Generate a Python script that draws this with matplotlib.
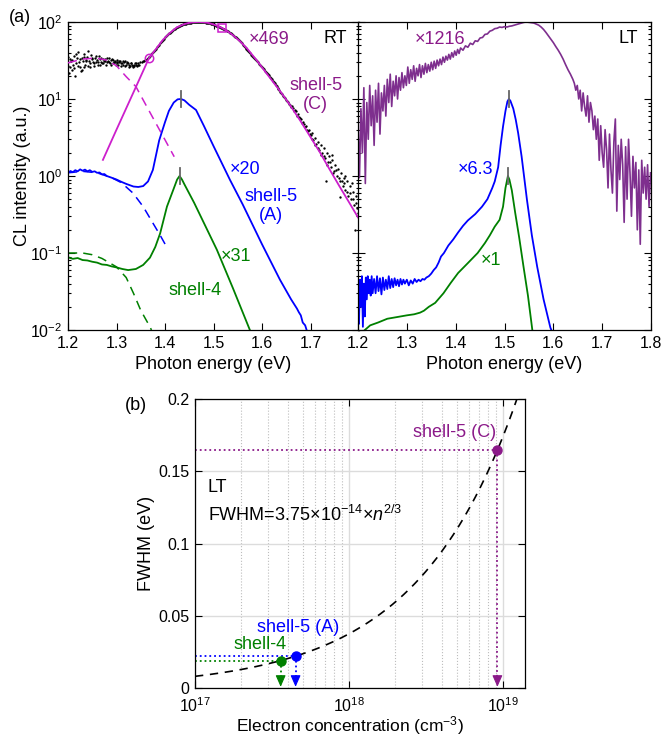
import numpy as np
import matplotlib
matplotlib.use("Agg")
import matplotlib.pyplot as plt
from matplotlib.ticker import FixedLocator, NullLocator, LogLocator

plt.rcParams['font.family'] = ['Liberation Sans', 'DejaVu Sans']
plt.rcParams['mathtext.fontset'] = 'custom'
plt.rcParams['mathtext.rm'] = 'Liberation Sans'
plt.rcParams['mathtext.it'] = 'Liberation Sans:italic'
plt.rcParams['mathtext.bf'] = 'Liberation Sans:bold'

# ---------------- colours ----------------
BLUE = (0, 0, 1)
GREEN = (0, 0.5, 0)
MAGENTA = '#CC1FCC'
PURPLE = '#8B1A89'
LT_PURPLE = '#7E2F8E'

# ---------------- (a) RT spectra ----------------
# shell-5 (C) measured points (photon energy eV, CL intensity a.u.)
rt_c_dots = [
    (1.200, 27), (1.204, 33), (1.208, 24), (1.212, 36), (1.216, 29), (1.220, 41), (1.224, 26),
    (1.228, 34), (1.232, 38), (1.236, 28), (1.240, 35), (1.244, 31), (1.248, 37), (1.252, 30),
    (1.256, 34), (1.260, 32), (1.264, 36), (1.268, 30), (1.272, 33), (1.276, 31), (1.280, 34),
    (1.284, 30), (1.288, 32), (1.292, 29), (1.296, 31), (1.300, 30), (1.304, 28), (1.308, 31),
    (1.312, 29), (1.316, 30), (1.320, 28), (1.324, 29), (1.328, 27), (1.332, 28), (1.336, 27),
    (1.340, 28), (1.344, 29), (1.348, 30),
    (1.202, 22), (1.206, 31), (1.210, 28), (1.214, 20), (1.218, 34), (1.222, 30), (1.226, 23),
    (1.230, 31), (1.234, 26), (1.238, 32), (1.242, 27), (1.246, 29), (1.250, 33), (1.254, 27),
    (1.258, 30), (1.262, 28), (1.266, 33), (1.270, 29), (1.274, 31), (1.278, 28), (1.282, 31),
    (1.286, 29), (1.290, 33), (1.294, 30), (1.298, 28), (1.302, 32), (1.306, 30), (1.310, 27),
    (1.314, 31), (1.318, 27), (1.322, 30), (1.326, 26), (1.330, 29), (1.334, 26), (1.338, 29),
    (1.342, 27), (1.346, 28),
    (1.201, 35), (1.205, 26), (1.209, 32), (1.213, 25), (1.217, 38), (1.221, 27), (1.225, 33),
    (1.229, 24), (1.233, 35), (1.237, 31), (1.241, 42), (1.245, 26), (1.249, 34), (1.253, 29),
    (1.257, 36), (1.261, 30), (1.265, 28), (1.269, 34), (1.273, 29), (1.277, 33), (1.281, 30),
    (1.285, 34), (1.289, 28), (1.293, 32), (1.297, 30), (1.301, 29), (1.305, 31), (1.309, 29),
    (1.313, 28), (1.317, 31), (1.321, 29), (1.325, 28), (1.329, 29), (1.333, 27), (1.337, 28),
    (1.341, 29), (1.345, 28),
    (1.352, 30.5), (1.356, 31.5), (1.360, 32.5), (1.364, 34), (1.368, 35.5), (1.372, 38),
    (1.376, 40.5), (1.380, 43.5), (1.384, 47), (1.388, 51), (1.392, 55), (1.396, 59),
    (1.400, 63), (1.404, 67), (1.408, 71), (1.412, 75), (1.416, 78.5), (1.420, 82),
    (1.424, 85), (1.428, 88), (1.432, 90.5), (1.436, 92.5), (1.440, 94), (1.444, 95.5),
    (1.448, 97), (1.452, 98), (1.456, 99), (1.460, 99.5), (1.464, 100), (1.468, 100),
    (1.472, 100), (1.476, 99.7), (1.480, 99.2), (1.484, 98.5), (1.488, 97.5), (1.492, 96.3),
    (1.496, 94.8), (1.500, 93), (1.504, 91), (1.508, 89), (1.512, 87), (1.516, 84.5),
    (1.520, 82), (1.524, 79.5), (1.528, 77), (1.532, 74), (1.536, 71), (1.540, 67.5),
    (1.544, 64.5), (1.548, 61.5), (1.552, 58.5), (1.556, 55.5), (1.560, 51), (1.564, 48),
    (1.568, 45), (1.572, 42), (1.576, 39), (1.580, 36.7), (1.584, 34.3), (1.588, 32),
    (1.592, 29.9), (1.596, 27.9), (1.600, 26), (1.604, 24.3), (1.608, 22.4), (1.612, 20.9),
    (1.616, 19.5), (1.620, 18), (1.624, 16.6), (1.628, 15.3), (1.632, 14.1), (1.636, 13),
    (1.640, 12), (1.644, 11.1), (1.648, 10.2), (1.652, 9.4), (1.656, 8.7), (1.660, 7.9),
    (1.354, 31), (1.358, 32), (1.362, 33.2), (1.366, 34.8), (1.370, 36.7), (1.374, 39.2),
    (1.378, 42), (1.382, 45.2), (1.386, 49), (1.390, 53), (1.394, 57), (1.398, 61),
    (1.402, 65), (1.406, 69), (1.410, 73), (1.414, 76.7), (1.418, 80.2), (1.422, 83.5),
    (1.426, 86.5), (1.430, 89.3), (1.434, 91.5), (1.438, 93.3), (1.442, 94.8), (1.446, 96.3),
    (1.450, 97.5), (1.454, 98.5), (1.458, 99.2), (1.462, 99.8), (1.466, 100), (1.470, 100),
    (1.474, 99.9), (1.478, 99.5), (1.482, 98.9), (1.486, 98), (1.490, 96.9), (1.494, 95.6),
    (1.498, 93.9), (1.502, 92), (1.506, 90), (1.510, 88), (1.514, 85.8), (1.518, 83.3),
    (1.522, 80.8), (1.526, 78.3), (1.530, 75.5), (1.534, 72.5), (1.538, 69.3), (1.542, 66),
    (1.546, 63), (1.550, 60), (1.554, 57), (1.558, 53.3), (1.562, 49.5), (1.566, 46.5),
    (1.570, 43.5), (1.574, 40.5), (1.578, 37.8), (1.582, 35.5), (1.586, 33.1), (1.590, 31),
    (1.594, 28.9), (1.598, 27), (1.602, 25.1), (1.606, 23.3), (1.610, 21.6), (1.614, 20.2),
    (1.618, 18.7), (1.622, 17.3), (1.626, 16), (1.630, 14.7), (1.634, 13.6), (1.638, 12.5),
    (1.642, 11.6), (1.646, 10.7), (1.650, 9.8), (1.654, 9.1), (1.658, 8.3),
    (1.664, 7.6), (1.667, 7.0), (1.670, 6.9), (1.673, 6.1), (1.676, 5.9), (1.679, 5.6),
    (1.682, 4.9), (1.685, 5.0), (1.688, 4.3), (1.691, 4.4), (1.694, 3.8), (1.697, 3.9),
    (1.700, 3.4), (1.703, 3.6), (1.706, 2.9), (1.709, 3.1), (1.712, 2.6), (1.715, 2.8),
    (1.718, 2.2), (1.721, 2.5), (1.724, 2.0), (1.727, 2.3), (1.730, 1.7), (1.733, 2.0),
    (1.736, 1.5), (1.739, 1.8), (1.742, 1.3), (1.745, 1.6), (1.748, 1.15), (1.751, 1.4),
    (1.754, 1.0), (1.757, 1.25), (1.760, 0.85), (1.763, 1.1), (1.766, 0.75), (1.769, 0.95),
    (1.772, 0.65), (1.775, 0.85), (1.778, 0.55), (1.781, 0.75), (1.784, 0.5), (1.787, 0.62),
    (1.790, 0.42), (1.793, 0.55), (1.796, 0.38), (1.799, 0.48),
    (1.662, 8.2), (1.668, 7.3), (1.674, 6.4), (1.680, 5.5), (1.686, 4.7), (1.692, 4.0),
    (1.698, 3.5), (1.704, 3.0), (1.710, 2.5), (1.716, 2.3), (1.722, 1.9), (1.728, 1.8),
    (1.734, 1.4), (1.740, 1.5), (1.746, 1.1), (1.752, 1.2), (1.758, 0.95), (1.764, 0.85),
    (1.770, 0.8), (1.776, 0.62), (1.782, 0.6), (1.788, 0.5), (1.794, 0.45), (1.797, 0.33),
    (1.732, 0.86), (1.761, 0.54), (1.792, 0.2), (1.772, 1.0), (1.785, 0.8), (1.744, 1.9),
]
rt_c_dot_E = [p[0] for p in rt_c_dots]
rt_c_dot_I = [p[1] for p in rt_c_dots]

# shell-5 (C) fitted band-to-band component
rt_c_fit_E = [1.272, 1.300, 1.336, 1.367, 1.380, 1.396, 1.410, 1.424, 1.440, 1.450, 1.460,
              1.470, 1.480, 1.490, 1.500, 1.510, 1.517, 1.530, 1.540, 1.555, 1.570, 1.590,
              1.607, 1.623, 1.640, 1.658, 1.680, 1.700, 1.720, 1.740, 1.760, 1.780, 1.798]
rt_c_fit_I = [1.62, 4.0, 12.6, 34, 43.5, 59, 72, 85, 94, 97.5, 99.5,
              100, 99.2, 97, 93, 88, 84, 75, 67.5, 56, 44.7, 31.3,
              22.5, 16.6, 12, 8.3, 5.1, 3.2, 2.0, 1.2, 0.73, 0.45, 0.29]
# shell-5 (C) low-energy component
rt_c_bg_E = [1.200, 1.230, 1.258, 1.280, 1.300, 1.320, 1.340, 1.360, 1.380, 1.400, 1.419]
rt_c_bg_I = [29.5, 33, 34, 32, 27, 19.5, 14.5, 8.5, 5.0, 2.95, 1.78]
# circle / square markers on the fit
rt_c_marks_E = [1.367, 1.517]
rt_c_marks_I = [34, 84]

# shell-5 (A), x20
rt_a_E = [1.200, 1.205, 1.210, 1.215, 1.220, 1.225, 1.230, 1.235, 1.240, 1.245, 1.250,
          1.255, 1.260, 1.265, 1.270, 1.275, 1.280, 1.290, 1.300, 1.310, 1.320, 1.335,
          1.345, 1.355, 1.365, 1.375, 1.388, 1.400, 1.408, 1.418, 1.426, 1.433, 1.440,
          1.450, 1.464, 1.480, 1.500, 1.534, 1.560, 1.600, 1.637, 1.660, 1.672, 1.676,
          1.680, 1.684, 1.689, 1.692]
rt_a_I = [1.10, 1.16, 1.12, 1.19, 1.15, 1.22, 1.17, 1.21, 1.15, 1.19, 1.13,
          1.15, 1.10, 1.11, 1.05, 1.06, 1.00, 0.95, 0.90, 0.84, 0.79, 0.73,
          0.72, 0.74, 0.85, 1.2, 2.9, 5.0, 7.0, 9.0, 9.9, 10, 9.6,
          8.4, 7.2, 4.5, 2.45, 0.89, 0.43, 0.13, 0.045, 0.025, 0.019, 0.017,
          0.0155, 0.0125, 0.0115, 0.01]
rt_a_bg_E = [1.200, 1.230, 1.260, 1.290, 1.310, 1.334, 1.355, 1.375, 1.390, 1.406]
rt_a_bg_I = [1.10, 1.15, 1.10, 0.95, 0.82, 0.60, 0.40, 0.245, 0.17, 0.112]

# shell-4, x31
rt_4_E = [1.200, 1.210, 1.220, 1.230, 1.240, 1.250, 1.260, 1.270, 1.280, 1.290, 1.300,
          1.312, 1.324, 1.340, 1.355, 1.369, 1.380, 1.390, 1.404, 1.417, 1.425, 1.430,
          1.435, 1.440, 1.460, 1.507, 1.540, 1.575]
rt_4_I = [0.088, 0.084, 0.086, 0.081, 0.080, 0.077, 0.075, 0.071, 0.070, 0.067, 0.065,
          0.062, 0.060, 0.062, 0.070, 0.087, 0.12, 0.18, 0.40, 0.66, 0.90, 1.0,
          0.90, 0.78, 0.45, 0.11, 0.035, 0.01]
rt_4_bg_E = [1.200, 1.230, 1.250, 1.270, 1.300, 1.320, 1.335, 1.350, 1.369, 1.372]
rt_4_bg_I = [0.100, 0.100, 0.095, 0.085, 0.066, 0.048, 0.030, 0.018, 0.011, 0.010]

rt_peaks_E = [1.433, 1.430]
rt_peaks_I = [10, 1.0]

# ---------------- (a) LT spectra ----------------
lt_c = [
    (1.200, 5.0), (1.203, 0.95), (1.206, 7.5), (1.209, 2.0), (1.212, 14), (1.215, 0.8),
    (1.218, 9), (1.221, 3.0), (1.224, 15), (1.227, 4.5), (1.230, 11), (1.233, 2.5),
    (1.236, 13), (1.239, 5), (1.242, 16), (1.245, 3.5), (1.248, 12), (1.251, 7),
    (1.254, 15), (1.257, 6), (1.260, 18), (1.263, 9), (1.266, 21), (1.269, 8),
    (1.272, 17), (1.275, 11), (1.278, 20), (1.281, 10), (1.284, 19), (1.287, 13),
    (1.290, 22), (1.293, 14), (1.296, 20), (1.299, 15), (1.302, 26), (1.305, 16),
    (1.308, 24), (1.311, 18), (1.314, 27), (1.317, 17), (1.320, 25), (1.323, 20),
    (1.326, 28), (1.329, 19), (1.332, 27), (1.335, 21), (1.338, 29), (1.341, 22),
    (1.344, 28), (1.347, 23), (1.350, 30), (1.353, 24), (1.356, 31), (1.359, 25),
    (1.362, 32), (1.365, 27), (1.368, 33), (1.371, 28), (1.374, 35), (1.377, 30),
    (1.380, 36), (1.383, 32), (1.386, 38), (1.389, 33), (1.392, 40), (1.395, 35),
    (1.398, 42), (1.401, 37), (1.404, 44), (1.407, 39), (1.410, 46), (1.415, 43),
    (1.420, 49), (1.425, 47), (1.430, 53), (1.435, 51), (1.440, 57), (1.445, 56),
    (1.450, 62), (1.455, 63), (1.460, 69), (1.465, 70), (1.470, 76), (1.475, 78),
    (1.480, 82), (1.485, 83), (1.490, 86), (1.495, 85), (1.500, 87), (1.505, 86),
    (1.510, 88), (1.515, 89), (1.520, 91), (1.525, 93), (1.530, 95), (1.535, 97),
    (1.540, 99), (1.545, 100), (1.550, 99), (1.555, 98), (1.560, 97), (1.565, 94),
    (1.570, 91), (1.575, 86), (1.580, 80), (1.585, 73), (1.590, 66), (1.595, 60),
    (1.600, 54), (1.605, 48), (1.610, 43), (1.615, 38), (1.620, 33), (1.625, 28),
    (1.630, 24), (1.635, 21), (1.640, 18), (1.643, 16), (1.646, 13), (1.649, 15),
    (1.652, 10), (1.655, 13), (1.658, 7), (1.661, 12), (1.664, 8), (1.667, 6),
    (1.670, 11), (1.673, 5), (1.676, 9), (1.679, 7), (1.682, 4), (1.685, 6),
    (1.688, 3.0), (1.691, 5.5), (1.694, 1.6), (1.697, 4.5), (1.700, 2.0), (1.703, 1.3),
    (1.706, 4.0), (1.709, 2.2), (1.712, 0.7), (1.715, 3.5), (1.718, 1.2), (1.721, 0.6),
    (1.724, 2.8), (1.727, 5.5), (1.730, 0.35), (1.733, 2.5), (1.736, 0.9), (1.739, 3.0),
    (1.742, 1.4), (1.745, 0.25), (1.748, 2.4), (1.751, 0.5), (1.754, 3.0), (1.757, 1.1),
    (1.760, 0.3), (1.763, 1.8), (1.766, 0.7), (1.769, 1.5), (1.772, 0.2), (1.775, 1.2),
    (1.778, 0.13), (1.781, 1.6), (1.784, 0.6), (1.787, 1.3), (1.790, 0.5), (1.793, 1.4),
    (1.796, 0.4), (1.799, 1.1),
]
lt_c_E = [p[0] for p in lt_c]
lt_c_I = [p[1] for p in lt_c]

lt_a = [
    (1.200, 0.030), (1.202, 0.012), (1.204, 0.045), (1.206, 0.020), (1.208, 0.050),
    (1.210, 0.011), (1.212, 0.040), (1.214, 0.015), (1.216, 0.048), (1.218, 0.025),
    (1.220, 0.050), (1.222, 0.030), (1.224, 0.045), (1.226, 0.028), (1.228, 0.050),
    (1.230, 0.030), (1.233, 0.046), (1.236, 0.030), (1.239, 0.050), (1.242, 0.032),
    (1.245, 0.047), (1.248, 0.029), (1.251, 0.048), (1.254, 0.033), (1.257, 0.045),
    (1.260, 0.034), (1.263, 0.050), (1.266, 0.035), (1.269, 0.046), (1.272, 0.036),
    (1.275, 0.047), (1.278, 0.038), (1.281, 0.045), (1.284, 0.037), (1.287, 0.046),
    (1.290, 0.039), (1.293, 0.045), (1.296, 0.040), (1.300, 0.045), (1.304, 0.038),
    (1.308, 0.044), (1.312, 0.040), (1.316, 0.046), (1.320, 0.042), (1.324, 0.045),
    (1.328, 0.043), (1.332, 0.046), (1.336, 0.045), (1.340, 0.048), (1.345, 0.050),
    (1.350, 0.054), (1.355, 0.060), (1.360, 0.065), (1.365, 0.075), (1.370, 0.090),
    (1.376, 0.100), (1.385, 0.125), (1.395, 0.150), (1.405, 0.185), (1.415, 0.225),
    (1.425, 0.265), (1.440, 0.320), (1.454, 0.400), (1.465, 0.50), (1.475, 0.70),
    (1.480, 0.85), (1.487, 1.3), (1.492, 2.5), (1.497, 4.4), (1.502, 7.0), (1.506, 9.3),
    (1.509, 10), (1.512, 9.5), (1.518, 7.5), (1.523, 5.4), (1.528, 3.6), (1.535, 1.8),
    (1.546, 0.49), (1.556, 0.17), (1.567, 0.066), (1.580, 0.025), (1.594, 0.0107),
    (1.596, 0.010),
]
lt_a_E = [p[0] for p in lt_a]
lt_a_I = [p[1] for p in lt_a]

lt_4_E = [1.214, 1.225, 1.241, 1.260, 1.282, 1.300, 1.315, 1.327, 1.335, 1.345, 1.358,
          1.375, 1.390, 1.405, 1.425, 1.445, 1.460, 1.470, 1.480, 1.490, 1.497, 1.502,
          1.507, 1.510, 1.515, 1.522, 1.530, 1.539, 1.548, 1.557]
lt_4_I = [0.010, 0.0115, 0.0125, 0.014, 0.0148, 0.0155, 0.016, 0.0168, 0.0178, 0.020, 0.0225,
          0.030, 0.041, 0.055, 0.074, 0.100, 0.135, 0.170, 0.22, 0.27, 0.40, 0.70,
          1.0, 0.90, 0.65, 0.33, 0.16, 0.066, 0.028, 0.010]

lt_peaks_E = [1.509, 1.507]
lt_peaks_I = [10, 1.0]

energy_ticks = [1.2, 1.3, 1.4, 1.5, 1.6, 1.7, 1.8]
energy_ticklabels = ['1.2', '1.3', '1.4', '1.5', '1.6', '1.7', '1.8']

# ---------------- (b) FWHM vs electron concentration ----------------
shell_names = ['shell-4', 'shell-5 (A)', 'shell-5 (C)']
shell_colors = [GREEN, BLUE, PURPLE]
shell_n = [3.6e17, 4.5e17, 9.2e18]
shell_fwhm = [0.019, 0.022, 0.165]
fit_coef = 3.75e-14
fit_power = 2 / 3
n_range = [1e17, 1.39e19]
fwhm_ticks = [0, 0.05, 0.1, 0.15, 0.2]
fwhm_ticklabels = ['0', '0.05', '0.1', '0.15', '0.2']

# ---------------- figure ----------------
W, H = 663, 736
fig = plt.figure(figsize=(W / 100, H / 100), dpi=100)


def box(l, t, r, b):
    return [l / W, 1 - b / H, (r - l) / W, (b - t) / H]


def style(ax):
    ax.tick_params(which='both', direction='in', top=True, right=True,
                   labelsize=11.5, width=0.8, pad=4, colors='black')
    ax.tick_params(which='major', length=5)
    ax.tick_params(which='minor', length=2.5)
    for s in ax.spines.values():
        s.set_linewidth(0.9)


ax1 = fig.add_axes(box(68, 22, 359, 330))
ax2 = fig.add_axes(box(358, 22, 651, 330))
ax3 = fig.add_axes(box(195, 399, 525, 688))

for ax in (ax1, ax2):
    ax.set_yscale('log')
    ax.set_xlim(1.2, 1.8)
    ax.set_ylim(1e-2, 1e2)
    ax.xaxis.set_major_locator(FixedLocator(energy_ticks))
    ax.xaxis.set_minor_locator(NullLocator())
    ax.yaxis.set_major_locator(LogLocator(base=10, numticks=10))
    ax.yaxis.set_minor_locator(LogLocator(base=10, subs=np.arange(2, 10), numticks=10))
    style(ax)

ax1.set_xticklabels(energy_ticklabels[:-1] + [''])
ax2.set_xticklabels(energy_ticklabels)
ax2.tick_params(axis='y', which='both', labelleft=False)

# RT panel
ax1.plot(rt_c_dot_E, rt_c_dot_I, 'o', ms=1.7, color='black', mec='none', zorder=2)
ax1.plot(rt_c_fit_E, rt_c_fit_I, '-', color=MAGENTA, lw=1.3, zorder=3)
ax1.plot(rt_c_bg_E, rt_c_bg_I, '--', color=MAGENTA, lw=1.1, dashes=(6, 4), zorder=3)
ax1.plot(rt_c_marks_E[:1], rt_c_marks_I[:1], 'o', mfc='none', mec=MAGENTA, ms=6, mew=1.1, zorder=4)
ax1.plot(rt_c_marks_E[1:], rt_c_marks_I[1:], 's', mfc='none', mec=MAGENTA, ms=6, mew=1.1, zorder=4)
ax1.plot(rt_a_E, rt_a_I, '-', color=BLUE, lw=1.3)
ax1.plot(rt_a_bg_E, rt_a_bg_I, '--', color=BLUE, lw=1.1, dashes=(6, 4))
ax1.plot(rt_4_E, rt_4_I, '-', color=GREEN, lw=1.3)
ax1.plot(rt_4_bg_E, rt_4_bg_I, '--', color=GREEN, lw=1.1, dashes=(6, 4))
for e, i in zip(rt_peaks_E, rt_peaks_I):
    ax1.plot([e, e], [i * 10 ** -0.1, i * 10 ** 0.1], color='0.4', lw=1.3, zorder=5)

txt = dict(fontsize=13, ha='center', va='center')
ax1.text(1.614, 59, '×469', color=PURPLE, **txt)
ax1.text(1.711, 11.3, 'shell-5\n(C)', color=PURPLE, linespacing=1.2, **txt)
ax1.text(1.565, 1.2, '×20', color=BLUE, **txt)
ax1.text(1.618, 0.41, 'shell-5\n(A)', color=BLUE, linespacing=1.2, **txt)
ax1.text(1.546, 0.091, '×31', color=GREEN, **txt)
ax1.text(1.462, 0.033, 'shell-4', color=GREEN, **txt)
ax1.text(0.959, 0.945, 'RT', transform=ax1.transAxes, fontsize=13, ha='right', va='center')

# LT panel
ax2.plot(lt_c_E, lt_c_I, '-', color=LT_PURPLE, lw=1.2)
ax2.plot(lt_a_E, lt_a_I, '-', color=BLUE, lw=1.3)
ax2.plot(lt_4_E, lt_4_I, '-', color=GREEN, lw=1.3)
for e, i in zip(lt_peaks_E, lt_peaks_I):
    ax2.plot([e, e], [i * 10 ** -0.1, i * 10 ** 0.1], color='0.4', lw=1.3, zorder=5)
ax2.text(1.368, 59, '×1216', color=PURPLE, **txt)
ax2.text(1.440, 1.2, '×6.3', color=BLUE, **txt)
ax2.text(1.472, 0.081, '×1', color=GREEN, **txt)
ax2.text(0.956, 0.945, 'LT', transform=ax2.transAxes, fontsize=13, ha='right', va='center')

ax1.set_ylabel('CL intensity (a.u.)', fontsize=13)
ax1.yaxis.set_label_coords(-0.127, 0.5)
for ax in (ax1, ax2):
    ax.set_xlabel('Photon energy (eV)', fontsize=13)
    ax.xaxis.set_label_coords(0.5, -0.085)

# (b) panel
ax3.set_xscale('log')
ax3.set_xlim(*n_range)
ax3.set_ylim(fwhm_ticks[0], fwhm_ticks[-1])
ax3.yaxis.set_major_locator(FixedLocator(fwhm_ticks))
ax3.set_yticklabels(fwhm_ticklabels)
ax3.xaxis.set_major_locator(LogLocator(base=10, numticks=10))
ax3.xaxis.set_minor_locator(LogLocator(base=10, subs=np.arange(2, 10), numticks=10))
style(ax3)
ax3.tick_params(which='minor', length=0)
ax3.tick_params(axis='x', which='major', pad=6)
ax3.grid(which='major', color='#dcdcdc', lw=1.0, ls='-')
ax3.grid(which='minor', axis='x', color='#bdbdbd', lw=0.8, ls=':')
ax3.set_axisbelow(True)

n_fit = np.logspace(np.log10(n_range[0]), np.log10(n_range[1]), 300)
ax3.plot(n_fit, fit_coef * n_fit ** fit_power, '--', color='black', lw=1.2, dashes=(5, 4))

for name, c, n, w in zip(shell_names, shell_colors, shell_n, shell_fwhm):
    ax3.plot([n_range[0], n], [w, w], ':', color=c, lw=1.3)
    ax3.plot([n, n], [w, 0.006], ':', color=c, lw=1.3)
    ax3.annotate('', xy=(n, 0.0008), xytext=(n, 0.0075),
                 arrowprops=dict(arrowstyle='-|>,head_length=0.5,head_width=0.22',
                                 color=c, lw=0.8, mutation_scale=14, shrinkA=0, shrinkB=0))
    ax3.plot([n], [w], 'o', color=c, ms=6.5, zorder=5)

ax3.text(shell_n[2] * 0.98, 0.1765, shell_names[2], color=PURPLE, fontsize=13, ha='right', va='center')
ax3.text(10 ** 17.669, 0.0422, shell_names[1], color=BLUE, fontsize=13, ha='center', va='center')
ax3.text(10 ** 17.422, 0.0298, shell_names[0], color=GREEN, fontsize=13, ha='center', va='center')
ax3.text(10 ** 17.084, 0.139, 'LT', fontsize=13, ha='left', va='center')
ax3.text(10 ** 17.084, 0.1197, r'FWHM=3.75×10$^{-14}$×$n^{2/3}$', fontsize=13, ha='left', va='center')

ax3.set_xlabel('Electron concentration (cm$^{-3}$)', fontsize=12.5)
ax3.xaxis.set_label_coords(0.47, -0.092)
ax3.set_ylabel('FWHM (eV)', fontsize=13)
ax3.yaxis.set_label_coords(-0.121, 0.5)

fig.text(20 / W, 1 - 18 / H, '(a)', fontsize=13, ha='center', va='center')
fig.text(136 / W, 1 - 406 / H, '(b)', fontsize=13, ha='center', va='center')

fig.savefig('out.png', dpi=100)
